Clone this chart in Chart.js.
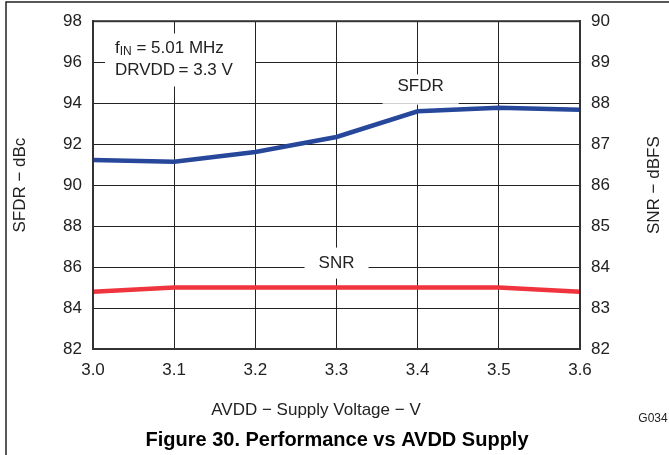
<!DOCTYPE html>
<html>
<head>
<meta charset="utf-8">
<script src="https://cdn.jsdelivr.net/npm/chart.js@4/dist/chart.umd.min.js"></script>
<style>
  html, body { margin: 0; padding: 0; background: #fff; }
</style>
</head>
<body>
<canvas id="chart" width="669" height="455"></canvas>
<script>
// data
const voltage = ['3.0', '3.1', '3.2', '3.3', '3.4', '3.5', '3.6'];
const sfdr = [91.22, 91.14, 91.62, 92.35, 93.6, 93.78, 93.68];   // dBc, left axis
const snr = [83.4, 83.5, 83.5, 83.5, 83.5, 83.5, 83.4];           // dBFS, right axis
const sfdrTicks = { min: 82, max: 98, step: 2 };
const snrTicks = { min: 82, max: 90, step: 1 };

const FONT = '"Liberation Sans", Arial, sans-serif';
const INK = '#222';

function txt(ctx, s, x, y, size, align, bold) {
    ctx.font = (bold ? 'bold ' : '') + size + 'px ' + FONT;
    ctx.textAlign = align || 'center';
    ctx.textBaseline = 'middle';
    ctx.fillText(s, x, y);
}

// white label boxes and texts on top of the grid, under the lines
const labels = {
    id: 'labels',
    beforeDatasetsDraw(chart) {
        const ctx = chart.ctx;
        const xs = chart.scales.x, yl = chart.scales.y;
        ctx.save();
        ctx.fillStyle = '#fff';
        // condition box
        ctx.fillRect(chart.chartArea.left + 12, yl.getPixelForValue(97.4), 150, 53);
        // SFDR label (near 3.4)
        const x34 = xs.getPixelForValue(4);
        ctx.fillRect(x34 - 35, yl.getPixelForValue(95.4), 76, 29);
        ctx.fillStyle = 'rgba(255,255,255,0.6)';
        ctx.fillRect(x34 - 35, yl.getPixelForValue(94) - 2, 76, 4);
        ctx.fillStyle = '#fff';
        // SNR label (near 3.3)
        const x33 = xs.getPixelForValue(3);
        ctx.fillRect(x33 - 32, yl.getPixelForValue(86.95), 64, 31);

        ctx.fillStyle = INK;
        const x0 = chart.chartArea.left + 22;
        const y1 = yl.getPixelForValue(96.7);
        ctx.font = '17px ' + FONT;
        ctx.textAlign = 'left';
        ctx.textBaseline = 'middle';
        ctx.fillText('f', x0, y1);
        let w = ctx.measureText('f').width;
        ctx.font = '12px ' + FONT;
        ctx.fillText('IN', x0 + w, y1 + 4);
        w += ctx.measureText('IN').width;
        ctx.font = '17px ' + FONT;
        ctx.fillText(' = 5.01 MHz', x0 + w, y1);
        txt(ctx, 'DRVDD\u2009= 3.3 V', x0, yl.getPixelForValue(95.6), 17, 'left');
        txt(ctx, 'SFDR', x34 + 3, yl.getPixelForValue(94.8), 17);
        txt(ctx, 'SNR', x33, yl.getPixelForValue(86.2), 17);
        ctx.restore();
    },
    afterDraw(chart) {
        const ctx = chart.ctx;
        const a = chart.chartArea;
        ctx.save();
        ctx.strokeStyle = '#333';
        ctx.lineWidth = 2;
        ctx.strokeRect(a.left, a.top, a.right - a.left, a.bottom - a.top);
        // outer figure frame (left and top)
        ctx.strokeStyle = INK;
        ctx.lineWidth = 1.5;
        ctx.beginPath();
        ctx.moveTo(6, 455);
        ctx.lineTo(6, 2);
        ctx.lineTo(669, 2);
        ctx.stroke();
        ctx.fillStyle = INK;
        // right axis title, reading bottom to top
        ctx.save();
        ctx.translate(654, (a.top + a.bottom) / 2);
        ctx.rotate(-Math.PI / 2);
        txt(ctx, 'SNR \u2212 dBFS', 0, 0, 17);
        ctx.restore();
        txt(ctx, 'AVDD \u2212 Supply Voltage \u2212 V', 316, 410, 17);
        txt(ctx, 'G034', 653, 419, 12);
        ctx.fillStyle = '#000';
        txt(ctx, 'Figure 30. Performance vs AVDD Supply', 337, 440, 20, 'center', true);
        ctx.restore();
    }
};

new Chart(document.getElementById('chart'), {
    type: 'line',
    data: {
        labels: voltage,
        datasets: [
            {
                label: 'SFDR',
                data: sfdr,
                yAxisID: 'y',
                borderColor: '#27479b',
                borderWidth: 4.5,
                pointRadius: 0,
                tension: 0
            },
            {
                label: 'SNR',
                data: snr,
                yAxisID: 'y2',
                borderColor: '#f0343e',
                borderWidth: 4.5,
                pointRadius: 0,
                tension: 0
            }
        ]
    },
    options: {
        responsive: false,
        animation: false,
        layout: { padding: { top: 18, left: 0, right: 0, bottom: 0 } },
        plugins: { legend: { display: false }, tooltip: { enabled: false } },
        scales: {
            x: {
                grid: { color: INK, lineWidth: 1, drawTicks: false },
                border: { color: '#333', width: 2 },
                ticks: { padding: 11, color: INK, font: { family: FONT, size: 17 } },
                afterFit: s => { s.height = 106; }
            },
            y: {
                position: 'left',
                min: sfdrTicks.min,
                max: sfdrTicks.max,
                grid: { color: INK, lineWidth: 1, drawTicks: false },
                border: { color: '#333', width: 2 },
                ticks: { stepSize: sfdrTicks.step, padding: 11, color: INK, font: { family: FONT, size: 17 } },
                title: { display: true, text: 'SFDR \u2212 dBc', color: INK, font: { family: FONT, size: 17 }, padding: { top: 10 } },
                afterFit: s => { s.width = 93; }
            },
            y2: {
                position: 'right',
                min: snrTicks.min,
                max: snrTicks.max,
                grid: { display: false, drawTicks: false },
                border: { color: '#333', width: 2 },
                ticks: { stepSize: snrTicks.step, padding: 11, color: INK, font: { family: FONT, size: 17 } },
                afterFit: s => { s.width = 89; }
            }
        }
    },
    plugins: [labels]
});
</script>
</body>
</html>
